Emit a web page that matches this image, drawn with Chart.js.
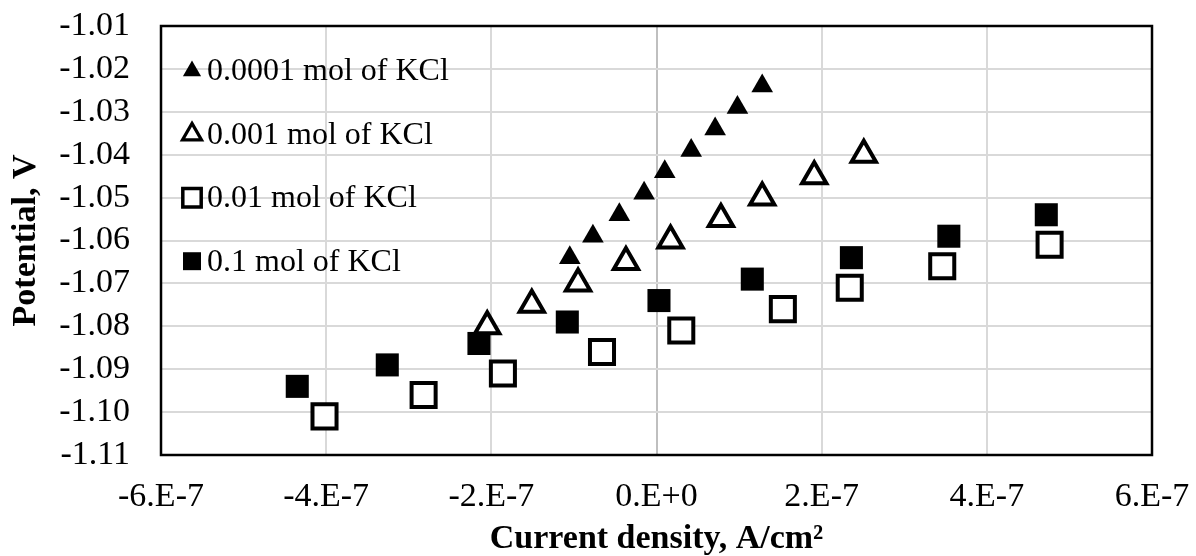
<!DOCTYPE html>
<html>
<head>
<meta charset="utf-8">
<script src="https://cdn.jsdelivr.net/npm/chart.js@4.4.1/dist/chart.umd.min.js"></script>
<style>
  html, body { margin: 0; padding: 0; background: #fff; }
  #wrap { width: 1196px; height: 556px; }
</style>
</head>
<body>
<div id="wrap"><canvas id="chart"></canvas></div>
<script>
// ---- Data (current density in A/cm², potential in V) ----
const SERIES_LABELS = ["0.0001 mol of KCl", "0.001 mol of KCl", "0.01 mol of KCl", "0.1 mol of KCl"];

const X_0001 = [-1.05e-7, -0.77e-7, -0.45e-7, -0.15e-7, 0.10e-7, 0.42e-7, 0.71e-7, 0.98e-7, 1.28e-7];
const Y_0001 = [-1.064, -1.059, -1.054, -1.049, -1.044, -1.039, -1.034, -1.029, -1.024];

const X_001 = [-2.05e-7, -1.51e-7, -0.95e-7, -0.37e-7, 0.17e-7, 0.78e-7, 1.28e-7, 1.91e-7, 2.51e-7];
const Y_001 = [-1.080, -1.075, -1.070, -1.065, -1.060, -1.055, -1.050, -1.045, -1.040];

const X_01 = [-4.02e-7, -2.82e-7, -1.86e-7, -0.66e-7, 0.30e-7, 1.53e-7, 2.34e-7, 3.46e-7, 4.76e-7];
const Y_01 = [-1.101, -1.096, -1.091, -1.086, -1.081, -1.076, -1.071, -1.066, -1.061];

const X_1 = [-4.35e-7, -3.26e-7, -2.15e-7, -1.08e-7, 0.03e-7, 1.16e-7, 2.36e-7, 3.54e-7, 4.72e-7];
const Y_1 = [-1.094, -1.089, -1.084, -1.079, -1.074, -1.069, -1.064, -1.059, -1.054];

const X_TICKS = [-6e-7, -4e-7, -2e-7, 0, 2e-7, 4e-7, 6e-7];
const X_TICK_LABELS = ["-6.E-7", "-4.E-7", "-2.E-7", "0.E+0", "2.E-7", "4.E-7", "6.E-7"];
const Y_TICKS = [-1.11, -1.10, -1.09, -1.08, -1.07, -1.06, -1.05, -1.04, -1.03, -1.02, -1.01];
const Y_TICK_LABELS = ["-1.11", "-1.10", "-1.09", "-1.08", "-1.07", "-1.06", "-1.05", "-1.04", "-1.03", "-1.02", "-1.01"];

const FONT = "'Liberation Serif', 'Times New Roman', serif";

function toPoints(xs, ys) {
  return xs.map((x, i) => ({ x, y: ys[i] }));
}

// keep the plot area exactly where layout.padding puts it
function noScalePadding(s) {
  s.paddingTop = 0; s.paddingBottom = 0; s.paddingLeft = 0; s.paddingRight = 0;
}

// ---- Plot frame ----
const framePlugin = {
  id: "frame",
  beforeDatasetsDraw(chart) {
    const { ctx, chartArea: a } = chart;
    ctx.save();
    ctx.strokeStyle = "#000";
    ctx.lineWidth = 2.5;
    ctx.strokeRect(a.left, a.top, a.right - a.left, a.bottom - a.top);
    ctx.restore();
  }
};

// ---- Legend inside the plot, top-left ----
const LEGEND_MARKERS = [
  { pointStyle: "triangle", radius: 10.5, borderWidth: 0,   fill: "#000", stroke: "#000" },
  { pointStyle: "triangle", radius: 11,   borderWidth: 3.2, fill: "#fff", stroke: "#000" },
  { pointStyle: "rect",     radius: 13,   borderWidth: 3.5, fill: "#fff", stroke: "#000" },
  { pointStyle: "rect",     radius: 12.7, borderWidth: 0,   fill: "#000", stroke: "#000" },
];

const insideLegend = {
  id: "insideLegend",
  afterDatasetsDraw(chart) {
    const { ctx, chartArea: a } = chart;
    ctx.save();
    ctx.font = "32px " + FONT;
    ctx.textBaseline = "middle";
    ctx.textAlign = "left";
    SERIES_LABELS.forEach((label, i) => {
      const m = LEGEND_MARKERS[i];
      const y = a.top + 45 + i * 63.4;
      const x = a.left + 31;
      ctx.fillStyle = m.fill;
      ctx.strokeStyle = m.stroke;
      ctx.lineWidth = m.borderWidth;
      Chart.helpers.drawPoint(ctx, { pointStyle: m.pointStyle, radius: m.radius, rotation: 0, borderWidth: m.borderWidth }, x, y);
      ctx.fillStyle = "#000";
      ctx.fillText(label, a.left + 46, y + 1);
    });
    ctx.restore();
  }
};

const tickFont = { family: FONT, size: 34 };
const titleFont = { family: FONT, size: 34, weight: "bold" };

new Chart(document.getElementById("chart"), {
  type: "scatter",
  data: {
    datasets: [
      {
        label: SERIES_LABELS[0],
        data: toPoints(X_0001, Y_0001),
        pointStyle: "triangle",
        pointRadius: 12.5,
        pointBorderWidth: 0,
        backgroundColor: "#000",
        borderColor: "#000",
      },
      {
        label: SERIES_LABELS[1],
        data: toPoints(X_001, Y_001),
        pointStyle: "triangle",
        pointRadius: 14,
        pointBorderWidth: 4,
        backgroundColor: "#fff",
        borderColor: "#000",
      },
      {
        label: SERIES_LABELS[2],
        data: toPoints(X_01, Y_01),
        pointStyle: "rect",
        pointRadius: 17,
        pointBorderWidth: 4,
        backgroundColor: "#fff",
        borderColor: "#000",
      },
      {
        label: SERIES_LABELS[3],
        data: toPoints(X_1, Y_1),
        pointStyle: "rect",
        pointRadius: 16.3,
        pointBorderWidth: 0,
        backgroundColor: "#000",
        borderColor: "#000",
      },
    ]
  },
  options: {
    responsive: true,
    maintainAspectRatio: false,
    animation: false,
    layout: { padding: { top: 26, right: 44, left: 0, bottom: 0 } },
    plugins: {
      legend: { display: false },
      tooltip: { enabled: false },
    },
    scales: {
      x: {
        type: "linear",
        min: -6e-7,
        max: 6e-7,
        afterBuildTicks: s => { s.ticks = X_TICKS.map(v => ({ value: v })); },
        afterFit: s => { s.height = 101; noScalePadding(s); },
        grid: {
          color: ctx => (ctx.tick && ctx.tick.value === 0 ? "#bfbfbf" : "#d9d9d9"),
          lineWidth: 2,
          drawTicks: false,
        },
        border: { display: false },
        ticks: {
          color: "#000",
          font: tickFont,
          padding: 22,
          maxRotation: 0,
          autoSkip: false,
          callback: (v, i) => X_TICK_LABELS[i],
        },
        title: {
          display: true,
          text: "Current density, A/cm²",
          color: "#000",
          font: { ...titleFont, lineHeight: 1 },
          padding: { top: 0, bottom: 0 },
        },
      },
      y: {
        type: "linear",
        min: -1.11,
        max: -1.01,
        afterBuildTicks: s => { s.ticks = Y_TICKS.map(v => ({ value: v })); },
        afterFit: s => { s.width = 161; noScalePadding(s); },
        grid: { color: "#d9d9d9", lineWidth: 2, drawTicks: false },
        border: { display: false },
        ticks: {
          color: "#000",
          font: tickFont,
          padding: 31,
          autoSkip: false,
          callback: (v, i) => Y_TICK_LABELS[i],
        },
        title: {
          display: true,
          text: "Potential, V",
          color: "#000",
          font: titleFont,
          padding: { top: 6, bottom: 0 },
        },
      },
    },
  },
  plugins: [framePlugin, insideLegend],
});
</script>
</body>
</html>
